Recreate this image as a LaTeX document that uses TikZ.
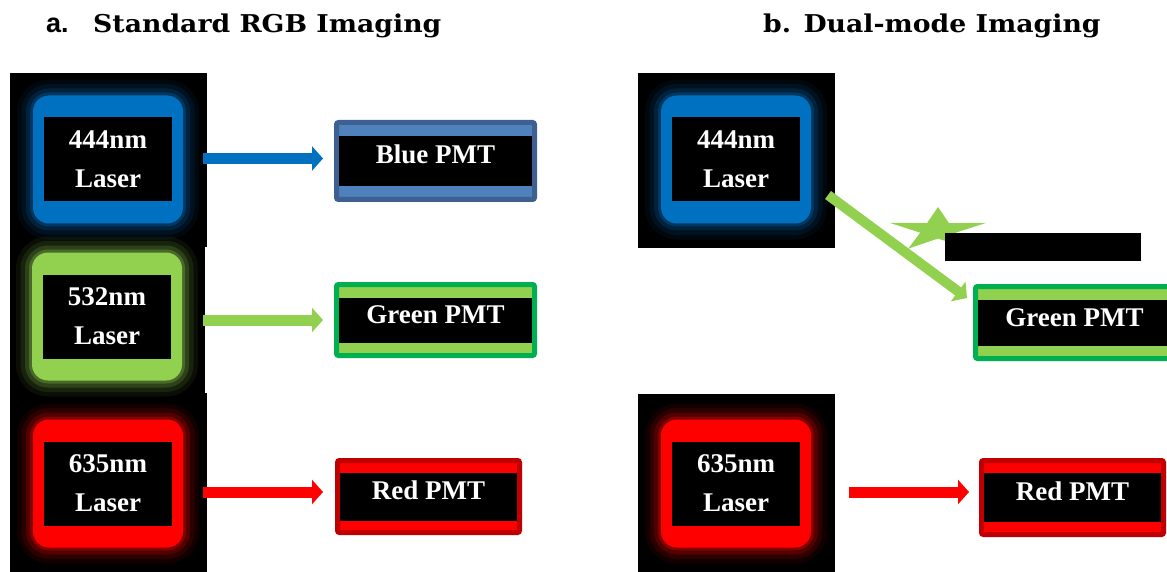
\documentclass[tikz,border=0pt]{standalone}
\usepackage{fontspec}
\setmainfont{Liberation Serif}
\newfontfamily\titlefont[FakeStretch=1.09]{DejaVu Serif}
\newfontfamily\labelsans{Liberation Sans}
\usetikzlibrary{arrows.meta}
\definecolor{laserblue}{HTML}{0070C0}
\definecolor{lasergreen}{HTML}{92D050}
\definecolor{laserred}{HTML}{FF0000}
\definecolor{pmtblueborder}{HTML}{3E6091}
\definecolor{pmtblueband}{HTML}{4F81BD}
\definecolor{pmtgreenborder}{HTML}{00B050}
\definecolor{pmtredborder}{HTML}{C00000}
\begin{document}
\begin{tikzpicture}[x=1pt,y=-1pt,
  panel/.style={fill=black, draw=none, inner sep=0, anchor=north west},
  laserbox/.style={rounded corners=16, fill=#1, minimum width=150, minimum height=128, inner sep=0,
    preaction={draw=#1, opacity=.07, line width=32},
    preaction={draw=#1, opacity=.11, line width=23},
    preaction={draw=#1, opacity=.18, line width=14},
    preaction={draw=#1, opacity=.28, line width=6}},
  laserlabel/.style={fill=black, text=white, minimum width=128, minimum height=84, inner sep=0,
    align=center, font=\bfseries\fontsize{27}{39}\selectfont},
  pmtbox/.style 2 args={draw=#1, fill=#2, line width=5, rounded corners=2, inner sep=0},
  pmtinner/.style={fill=black, inner sep=0},
  pmttext/.style={text=white, inner sep=0, font=\bfseries\fontsize{27}{30}\selectfont},
  beam/.style={draw=#1, line width=11, -{Triangle[length=11pt,width=24pt]}},
  title/.style={anchor=base west, inner sep=0, font=\titlefont\bfseries\fontsize{24.5}{28}\selectfont}
]
\useasboundingbox (0,0) rectangle (1167,572);
\clip (0,0) rectangle (1167,572);
\fill[white] (0,0) rectangle (1167,572);

% titles
\node[anchor=base west, inner sep=0, font=\labelsans\bfseries\fontsize{27}{30}\selectfont] (ta) at (46,33) {a.};
\node[title] (tat) at (93,33) {Standard RGB Imaging};
\node[title] (tb) at (763,33) {b. Dual-mode Imaging};

% panels
\node[panel, minimum width=197, minimum height=174] (panA) at (10,73) {};
\node[panel, minimum width=195, minimum height=146] (panB) at (10,247) {};
\node[panel, minimum width=197, minimum height=179] (panC) at (10,393) {};
\node[panel, minimum width=197, minimum height=175] (panD) at (638,73) {};
\node[panel, minimum width=197, minimum height=178] (panE) at (638,394) {};

% lasers
\node[laserbox=laserblue]  (lA) at (108,159.5) {};
\node[laserbox=lasergreen] (lB) at (107,316.5) {};
\node[laserbox=laserred]   (lC) at (108,483.5) {};
\node[laserbox=laserblue]  (lD) at (736,159.5) {};
\node[laserbox=laserred]   (lE) at (736,483.5) {};
\node[laserlabel] (tA) at (lA) {444nm\\Laser};
\node[laserlabel] (tB) at (lB) {532nm\\Laser};
\node[laserlabel] (tC) at (lC) {635nm\\Laser};
\node[laserlabel] (tD) at (lD) {444nm\\Laser};
\node[laserlabel] (tE) at (lE) {635nm\\Laser};

% PMTs
\node[pmtbox={pmtblueborder}{pmtblueband}, minimum width=198, minimum height=77] (pA) at (435.5,161) {};
\node[pmtinner, minimum width=193, minimum height=50] (iA) at (pA) {};
\node[pmttext] (xA) at ([yshift=7]iA.center) {Blue PMT};

\node[pmtbox={pmtgreenborder}{lasergreen}, minimum width=198, minimum height=71] (pB) at (435.5,320) {};
\node[pmtinner, minimum width=193, minimum height=45] (iB) at (pB) {};
\node[pmttext] (xB) at ([yshift=5]iB.center) {Green PMT};

\node[pmtbox={pmtredborder}{laserred}, minimum width=182, minimum height=72] (pC) at (428.5,496.5) {};
\node[pmtinner, minimum width=177, minimum height=48] (iC) at (pC) {};
\node[pmttext] (xC) at ([yshift=6]iC.center) {Red PMT};

\node[pmtbox={pmtgreenborder}{lasergreen}, minimum width=198, minimum height=72] (pD) at (1074.5,322.5) {};
\node[pmtinner, minimum width=193, minimum height=46] (iD) at (pD) {};
\node[pmttext] (xD) at ([yshift=5]iD.center) {Green PMT};

\node[pmtbox={pmtredborder}{laserred}, minimum width=182, minimum height=74] (pE) at (1072.5,497.5) {};
\node[pmtinner, minimum width=177, minimum height=49] (iE) at (pE) {};
\node[pmttext] (xE) at ([yshift=6]iE.center) {Red PMT};

% star
\begin{scope}[shift={(938,230)}, xscale=2.2, yscale=-1]
  \fill[lasergreen] (90:23) -- (126:8.5) -- (162:23) -- (198:8.5) -- (234:23) -- (270:8.5)
     -- (306:23) -- (342:8.5) -- (18:23) -- (54:8.5) -- cycle;
\end{scope}

% blank black bar
\node[panel, minimum width=196, minimum height=28] (blank) at (945,233) {};

% connectors
\coordinate (gs) at (828,195);
\coordinate (ge) at (967,298);
\draw[beam=laserblue]  ([xshift=-4]panA.east |- 0,158.5) -- ([xshift=-11]pA.west |- 0,158.5);
\draw[beam=lasergreen] ([xshift=-2]panB.east |- 0,320) -- ([xshift=-11]pB.west |- 0,320);
\draw[beam=laserred]   ([xshift=-4]panC.east |- 0,492) -- ([xshift=-12]pC.west |- 0,492);
\draw[beam=laserred]   ([xshift=14]panE.east |- 0,492) -- ([xshift=-10]pE.west |- 0,492);
\draw[beam=lasergreen, line width=10] (gs) -- (ge);
\end{tikzpicture}
\end{document}
